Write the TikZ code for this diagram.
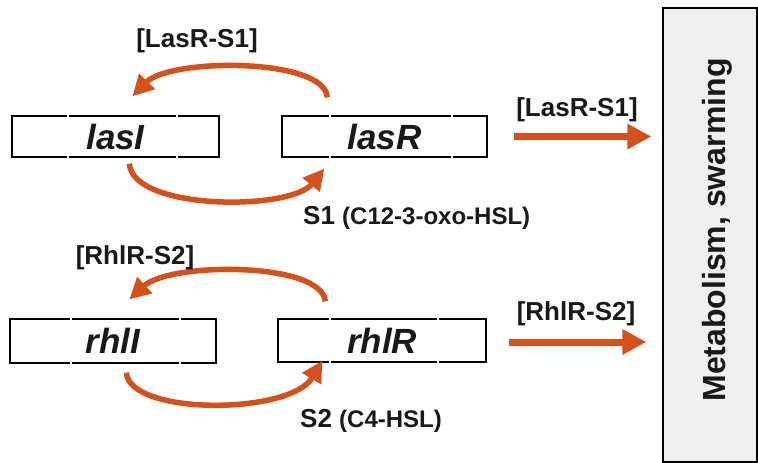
\documentclass[tikz,border=0pt]{standalone}
\usepackage{fontspec}
\setmainfont{Liberation Sans}
\usetikzlibrary{arrows.meta,calc}
\definecolor{arr}{RGB}{214,80,28}
\definecolor{txt}{RGB}{25,25,25}
\definecolor{panel}{RGB}{239,239,239}
\tikzset{
  gene/.style={draw=black, line width=1.3pt, inner sep=0pt, text=txt,
    font=\fontsize{35}{38}\selectfont\bfseries\itshape},
  lbl/.style={inner sep=0pt, text=txt, font=\fontsize{26}{28}\selectfont\bfseries},
  sig/.style={inner sep=0pt, text=txt, anchor=west},
  curvearr/.style={draw=arr, line width=5.5pt, -{Triangle[length=21pt,width=21pt]}},
  straightarr/.style={draw=arr, line width=7pt, -{Triangle[length=24pt,width=24pt]}},
  gapmark/.style={draw=white, line width=2pt},
}
\newcommand{\genegaps}[3]{%
  \draw[gapmark] (#2,0 |- #1.north) ++(0,-3) -- ++(0,6);
  \draw[gapmark] (#2,0 |- #1.south) ++(0,-3) -- ++(0,6);
  \draw[gapmark] (#3,0 |- #1.north) ++(0,-3) -- ++(0,6);
  \draw[gapmark] (#3,0 |- #1.south) ++(0,-3) -- ++(0,6);
}
\begin{document}
\begin{tikzpicture}[x=1pt,y=-1pt]
\useasboundingbox (0,0) rectangle (758,463);
\fill[white] (0,0) rectangle (758,463);

% genes
\node[gene, minimum width=207pt, minimum height=41pt] (lasI) at (115.5,136.5) {lasI};
\node[gene, minimum width=205pt, minimum height=41pt] (lasR) at (384.5,136.5) {lasR};
\node[gene, minimum width=206pt, minimum height=44pt] (rhlI) at (113,341) {rhlI};
\node[gene, minimum width=208pt, minimum height=43pt] (rhlR) at (382,340.5) {rhlR};
\genegaps{lasI}{68}{177}
\genegaps{lasR}{330}{452}
\genegaps{rhlI}{71}{180}
\genegaps{rhlR}{330}{438}

% output panel
\node[draw=black, line width=1.3pt, fill=panel, minimum width=94pt, minimum height=454pt,
      inner sep=0pt] (met) at (710,235) {};
\node[rotate=90, text=txt, font=\fontsize{32}{36}\selectfont\bfseries] (mettxt) at (717,230)
  {Metabolism, swarming};

% las loop
\draw[curvearr] ($(lasR.north west)+(46,-18)$) .. controls +(-3,-40) and (170,58) ..
  ($(lasI.north west)+(121,-19)$);
\draw[curvearr] ($(lasI.south west)+(118,6)$) .. controls +(3,47) and (290,211) ..
  ($(lasR.south west)+(43,11)$);
% rhl loop
\draw[curvearr] ($(rhlR.north west)+(48,-17)$) .. controls +(-4,-40) and (170,262) ..
  ($(rhlI.north west)+(120,-19)$);
\draw[curvearr] ($(rhlI.south west)+(117,9)$) .. controls +(3,43) and (290,415) ..
  ($(rhlR.south west)+(45,-2)$);

% outputs
\draw[straightarr] ($(lasR.east)+(26,0)$) -- ([xshift=-11pt]met.west |- lasR.east);
\coordinate (rhlout) at ($(rhlR.east)+(22,1.5)$);
\draw[straightarr] (rhlout) -- ([xshift=-16pt]met.west |- rhlout);

% labels
\node[lbl] (l1) at (197,41) {[LasR-S1]};
\node[lbl] (l2) at (577,110) {[LasR-S1]};
\node[lbl] (l3) at (135,258) {[RhlR-S2]};
\node[lbl] (l4) at (576,314) {[RhlR-S2]};
\node[sig] (s1) at (303,218) {\fontsize{26}{28}\selectfont\bfseries S1 \fontsize{24}{26}\selectfont(C12-3-oxo-HSL)};
\node[sig] (s2) at (300,421) {\fontsize{26}{28}\selectfont\bfseries S2 \fontsize{24}{26}\selectfont(C4-HSL)};
\end{tikzpicture}
\end{document}
